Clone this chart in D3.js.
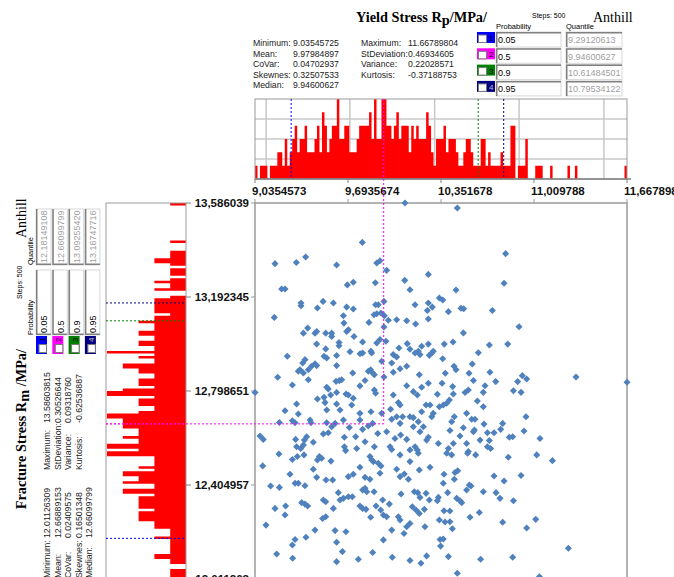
<!DOCTYPE html>
<html>
<head>
<meta charset="utf-8">
<script src="https://cdn.jsdelivr.net/npm/d3@7/dist/d3.min.js"></script>
<style>
  body { margin: 0; background: #fff; }
  svg { display: block; }
  text { font-family: "Liberation Sans", Arial, sans-serif; }
</style>
</head>
<body>
<div id="chart"></div>
<script>
// ---- data ----
const xTickVals = [9.0354573, 9.6935674, 10.351678, 11.009788, 11.667898];
const xTickLabels = ["9,0354573", "9,6935674", "10,351678", "11,009788", "11,667898"];
const yTickVals = [13.586039, 13.192345, 12.798651, 12.404957, 12.011263];
const yTickLabels = ["13,586039", "13,192345", "12,798651", "12,404957", "12,011263"];

const probabilities = ["0.05", "0.5", "0.9", "0.95"];
const probColors = ["#0000ff", "#ff00ff", "#008000", "#000080"];
const xQuantiles = [9.29120613, 9.94600627, 10.61484501, 10.79534122];
const yQuantiles = [12.18149108, 12.66099799, 13.09255420, 13.16747716];
const xQuantileText = ["9.29120613", "9.94600627", "10.61484501", "10.79534122"];
const yQuantileText = ["12.18149108", "12.66099799", "13.09255420", "13.16747716"];

const statNames1 = ["Minimum:", "Mean:", "CoVar:", "Skewnes:", "Median:"];
const statNames2 = ["Maximum:", "StDeviation:", "Variance:", "Kurtosis:"];
const xStats1 = ["9.03545725", "9.97984897", "0.04702937", "0.32507533", "9.94600627"];
const xStats2 = ["11.66789804", "0.46934605", "0.22028571", "-0.37188753"];
const yStats1 = ["12.01126309", "12.66889153", "0.02409575", "0.16501348", "12.66099799"];
const yStats2 = ["13.58603815", "0.30526644", "0.09318760", "-0.62536887"];

// histogram of the yield stress, 150 bins from min to max
const xCounts = [
  1,0,1,1,1,0,1,1,1,2, 2,1,3,1,2,3,4,2,3,3, 4,2,2,2,3,4,2,5,4,2,
  3,4,4,6,3,3,4,4,2,2, 2,3,4,4,4,4,5,3,6,3, 3,6,6,4,4,3,4,5,3,4,
  4,4,2,4,3,4,3,3,3,5, 4,2,1,3,3,3,4,2,3,3, 3,2,1,1,2,3,3,2,1,1,
  1,3,3,1,2,1,1,1,1,2, 1,1,1,4,4,0,1,1,1,3, 0,0,0,1,1,1,0,0,0,1,
  0,0,0,0,0,0,1,0,0,1, 0,0,0,0,0,0,0,0,0,0, 0,0,0,0,0,0,0,0,0,1
];
// histogram of the fracture stress, 150 bins from max down to min
const yCountsTopDown = [
  1,0,0,0,0,0,0,0,0,0, 0,0,0,0,0,1,0,0,0,1, 1,1,2,2,1,0,1,1,1,0,
  1,2,1,1,2,0,0,1,2,2, 2,2,2,2,1,2,2,3,2,2, 2,3,3,2,2,3,3,2,2,5,
  2,3,2,2,4,4,3,3,2,2, 3,3,3,2,4,5,5,2,3,3, 3,2,2,3,5,5,4,4,4,4,
  3,3,3,4,3,3,5,5,3,5, 5,2,2,2,2,3,2,4,4,3, 3,4,2,2,4,4,2,3,3,3,
  3,3,2,3,3,3,3,2,2,2, 1,1,1,2,1,1,1,1,1,1, 2,2,1,1,0,0,1,1,1,1
];

// scatter samples [yield stress, fracture stress]
const points = [
  [10.097,13.586],[9.795,13.421],[9.177,13.332],[9.328,13.337],[9.394,13.360],[9.613,13.326],[9.897,13.335],[9.920,13.344],
  [9.967,13.304],[10.095,13.262],[9.731,13.254],[9.689,13.243],[9.887,13.252],[10.132,13.223],[9.224,13.226],[9.248,13.226],
  [9.361,13.167],[9.361,13.156],[9.517,13.174],[9.477,13.146],[9.590,13.167],[9.684,13.150],[9.731,13.142],[9.889,13.160],
  [9.908,13.160],[9.948,13.174],[10.168,13.160],[9.172,13.107],[9.661,13.114],[9.878,13.118],[9.897,13.122],[9.927,13.125],
  [9.951,13.114],[9.979,13.095],[10.038,13.097],[10.109,13.093],[9.842,13.086],[9.665,13.083],[9.408,13.062],[9.378,13.041],
  [9.460,13.041],[9.472,13.048],[9.536,13.041],[9.578,13.041],[9.578,13.027],[9.696,13.055],[9.684,13.048],[9.736,13.027],
  [9.948,13.067],[10.172,13.079],[9.920,13.014],[9.797,13.004],[9.472,12.995],[9.630,13.002],[9.630,12.988],[9.897,13.000],
  [9.962,13.007],[10.113,12.997],[10.215,12.986],[10.054,12.979],[9.536,12.975],[9.264,12.944],[9.389,12.930],[9.524,12.944],
  [9.543,12.937],[9.613,12.947],[9.708,12.963],[9.779,12.955],[9.797,12.958],[9.856,12.965],[9.861,12.958],[10.014,12.951],
  [10.038,12.941],[10.132,12.974],[10.168,12.958],[10.191,12.965],[10.203,12.951],[9.932,12.923],[9.373,12.916],[9.354,12.888],
  [9.342,12.881],[9.378,12.874],[9.413,12.888],[9.436,12.902],[9.460,12.913],[9.472,12.905],[9.613,12.905],[9.727,12.874],
  [9.837,12.881],[9.854,12.888],[9.868,12.874],[9.880,12.867],[10.003,12.916],[10.014,12.877],[10.062,12.892],[10.109,12.902],
  [10.198,12.867],[9.196,12.856],[9.413,12.846],[9.609,12.839],[9.632,12.842],[9.649,12.846],[9.814,12.843],[9.948,12.857],
  [10.467,13.565],[10.809,13.374],[10.798,13.250],[10.262,13.287],[10.458,13.222],[10.340,13.188],[10.364,13.180],[10.262,13.167],
  [10.290,13.150],[10.255,13.136],[10.262,13.100],[10.404,13.131],[10.493,13.145],[10.512,13.143],[10.715,13.136],[10.904,13.068],
  [10.510,13.042],[10.262,12.995],[10.375,12.995],[10.437,13.004],[10.694,12.991],[10.824,12.995],[10.269,12.948],[10.286,12.958],
  [10.297,12.965],[10.364,12.934],[10.616,12.959],[10.573,12.912],[10.444,12.902],[10.458,12.888],[10.382,12.873],[10.550,12.873],
  [10.698,12.877],[10.581,12.843],[10.359,12.831],[10.262,12.831],[10.927,12.863],[10.958,12.849],[11.307,12.857],[11.668,12.835],
  [10.739,12.838],[10.894,12.838],
  [9.036,12.792],[9.300,12.824],[9.543,12.814],[9.554,12.807],[9.696,12.782],[9.778,12.820],[9.880,12.803],[9.889,12.789],
  [10.014,12.782],[10.050,12.750],[10.062,12.740],[10.109,12.821],[10.156,12.796],[10.215,12.814],[10.184,12.782],[9.613,12.792],
  [9.731,12.768],[9.477,12.765],[9.524,12.772],[9.571,12.782],[9.679,12.786],[9.330,12.744],[9.248,12.716],[9.342,12.702],
  [9.425,12.677],[9.531,12.750],[9.613,12.744],[9.637,12.719],[9.543,12.719],[9.720,12.740],[9.778,12.705],[9.856,12.712],
  [9.932,12.705],[9.995,12.722],[10.038,12.691],[10.080,12.691],[10.132,12.691],[10.156,12.687],[10.215,12.712],[9.208,12.667],
  [9.300,12.674],[9.319,12.666],[9.432,12.666],[9.543,12.666],[9.578,12.649],[9.602,12.663],[9.661,12.677],[9.703,12.646],
  [9.778,12.677],[9.797,12.638],[9.837,12.652],[9.868,12.663],[9.967,12.628],[10.003,12.680],[10.062,12.663],[10.156,12.649],
  [10.191,12.670],[10.227,12.649],[9.071,12.610],[9.094,12.596],[9.323,12.596],[9.401,12.607],[9.385,12.593],[9.448,12.584],
  [9.519,12.619],[9.554,12.624],[9.668,12.605],[9.748,12.607],[9.814,12.586],[9.904,12.621],[10.026,12.600],[10.066,12.614],
  [10.109,12.596],[10.203,12.628],[10.132,12.552],[10.168,12.565],[10.184,12.552],[9.205,12.535],[9.300,12.512],[9.330,12.565],
  [9.359,12.558],[9.378,12.572],[9.335,12.524],[9.382,12.531],[9.477,12.510],[9.491,12.524],[9.507,12.517],[9.573,12.505],
  [9.668,12.565],[9.677,12.549],[9.755,12.558],[9.880,12.565],[9.849,12.524],[9.861,12.510],[9.873,12.503],[9.908,12.496],
  [9.927,12.485],[9.991,12.565],[10.003,12.554],[10.062,12.531],[10.132,12.503],[10.191,12.538],[9.090,12.485],[9.283,12.450],
  [9.319,12.412],[9.342,12.412],[9.448,12.471],[9.472,12.437],[9.538,12.426],[9.585,12.426],[9.696,12.440],[9.731,12.450],
  [9.778,12.479],[9.814,12.437],[9.849,12.429],[9.920,12.454],[10.038,12.471],[10.062,12.440],[10.092,12.451],[10.121,12.429],
  [10.198,12.468],[9.146,12.401],[9.208,12.395],[9.389,12.402],[9.625,12.373],[9.696,12.356],[9.724,12.356],[9.637,12.342],
  [9.661,12.349],[9.814,12.391],[9.826,12.377],[9.797,12.384],[9.878,12.377],[9.939,12.342],[9.986,12.325],[10.069,12.367],
  [10.163,12.377],[10.187,12.373],[10.203,12.353],[9.177,12.307],[9.252,12.317],[9.248,12.279],[9.366,12.331],[9.389,12.325],
  [9.408,12.317],[9.519,12.342],[9.536,12.335],[9.590,12.307],[9.778,12.317],[9.797,12.307],[9.821,12.303],[9.854,12.270],
  [9.892,12.317],[9.925,12.300],[9.944,12.279],[9.967,12.272],[10.050,12.272],[10.062,12.258],[10.149,12.314],[10.175,12.300],
  [9.113,12.237],[9.460,12.216],[9.514,12.265],[9.536,12.272],[9.602,12.214],[9.679,12.209],[9.944,12.175],[10.003,12.216],
  [10.090,12.202],[10.109,12.230],[10.132,12.244],[10.198,12.286],[10.238,12.230],[9.319,12.177],[9.300,12.154],[9.396,12.186],
  [9.189,12.116],[9.302,12.098],[9.613,12.165],[9.654,12.126],[9.613,12.084],[9.767,12.094],[9.868,12.122],[10.007,12.102],
  [10.132,12.089],[10.210,12.077],
  [10.434,12.817],[10.663,12.821],[10.864,12.800],[10.918,12.793],[10.522,12.792],[10.545,12.803],[10.651,12.793],[10.326,12.785],
  [10.439,12.786],[10.609,12.757],[10.651,12.733],[10.246,12.740],[10.274,12.740],[10.340,12.733],[10.368,12.740],[10.392,12.747],
  [10.411,12.761],[10.297,12.705],[10.286,12.691],[10.446,12.691],[10.533,12.705],[10.569,12.680],[10.592,12.680],[10.953,12.691],
  [10.656,12.660],[10.788,12.663],[10.427,12.670],[10.415,12.633],[10.510,12.645],[10.581,12.628],[10.588,12.635],[10.680,12.624],
  [10.727,12.624],[10.774,12.638],[10.939,12.631],[10.486,12.610],[10.835,12.605],[10.859,12.607],[11.052,12.600],[10.250,12.593],
  [10.262,12.605],[10.333,12.579],[10.439,12.579],[10.533,12.579],[10.628,12.593],[10.694,12.591],[10.680,12.565],[10.703,12.558],
  [10.404,12.558],[10.392,12.538],[10.427,12.531],[10.545,12.545],[10.540,12.538],[10.597,12.531],[10.828,12.521],[11.029,12.531],
  [11.140,12.507],[10.274,12.479],[10.451,12.457],[10.470,12.465],[10.373,12.450],[10.727,12.443],[10.798,12.422],[10.918,12.445],
  [10.446,12.429],[10.368,12.412],[10.552,12.405],[10.533,12.384],[10.564,12.401],[10.651,12.377],[10.741,12.373],[10.769,12.349],
  [10.864,12.339],[10.246,12.370],[10.269,12.342],[10.333,12.353],[10.326,12.339],[10.399,12.373],[10.463,12.349],[10.486,12.339],
  [10.498,12.331],[10.234,12.303],[10.373,12.297],[10.415,12.296],[10.623,12.290],[10.557,12.270],[10.340,12.258],[10.380,12.250],
  [10.415,12.251],[10.432,12.222],[10.788,12.249],[10.958,12.225],[11.022,12.261],[10.345,12.177],[10.368,12.179],[10.349,12.149],
  [10.250,12.108],[10.404,12.105],[10.632,12.094],[10.859,12.102],[11.253,12.140],[10.467,12.035],[11.048,12.021]
];

// ---- layout ----
const W = 674, H = 577;
const xMin = xTickVals[0], xMax = xTickVals[xTickVals.length - 1];
const yMax = yTickVals[0], yMin = yTickVals[yTickVals.length - 1];
const mid = 1; // index of the 0.5 probability

const svg = d3.select("#chart").append("svg")
    .attr("width", W)
    .attr("height", H);

const x = d3.scaleLinear().domain([xMin, xMax]).range([255, 627]);
const y = d3.scaleLinear().domain([yMin, yMax]).range([579, 203]);
const hTop = d3.scaleLinear().domain([0, 6]).range([179, 99]);
const hLeft = d3.scaleLinear().domain([0, 5]).range([186, 107]);

const gridColor = "#c8c8c8";
const axisColor = "#9a9a9a";

// ---- top histogram ----
const topG = svg.append("g");
topG.selectAll(".hgrid").data([1.5, 3, 4.5]).join("line")
    .attr("x1", x.range()[0]).attr("x2", x.range()[1])
    .attr("y1", d => hTop(d)).attr("y2", d => hTop(d))
    .attr("stroke", gridColor).attr("stroke-width", 1.5);
topG.selectAll(".vgrid").data([0.03, 0.255, 0.483, 0.71, 0.938]).join("line")
    .attr("x1", d => x(xMin + d * (xMax - xMin))).attr("x2", d => x(xMin + d * (xMax - xMin)))
    .attr("y1", hTop(6)).attr("y2", hTop(0))
    .attr("stroke", gridColor).attr("stroke-width", 1.5);

const xBinW = (xMax - xMin) / xCounts.length;
const xBins = xCounts.map((c, i) => ({ v: xMin + i * xBinW, c }));
xBins.push({ v: xMax, c: xCounts[xCounts.length - 1] });
topG.append("path")
    .datum(xBins)
    .attr("d", d3.area()
        .x(d => x(d.v))
        .y0(hTop(0))
        .y1(d => hTop(d.c))
        .curve(d3.curveStepAfter))
    .attr("fill", "#ff0000");

topG.append("rect")
    .attr("x", x.range()[0]).attr("y", hTop(6))
    .attr("width", x.range()[1] - x.range()[0]).attr("height", hTop(0) - hTop(6))
    .attr("fill", "none").attr("stroke", axisColor);
topG.append("line")
    .attr("x1", x.range()[0]).attr("x2", x.range()[1] + 4)
    .attr("y1", hTop(0)).attr("y2", hTop(0))
    .attr("stroke", "#808080").attr("stroke-width", 1.5);
topG.selectAll(".tick").data(xTickVals).join("line")
    .attr("x1", d => x(d)).attr("x2", d => x(d))
    .attr("y1", hTop(0)).attr("y2", hTop(0) + 4)
    .attr("stroke", "#808080");
topG.selectAll(".lab").data(xTickLabels).join("text")
    .attr("x", (d, i) => x(xTickVals[i]) - 3)
    .attr("y", 195)
    .style("font-size", "11.5px").style("font-weight", "bold").attr("fill", "#111")
    .text(d => d);

// quantile markers on the top histogram
topG.selectAll(".q").data(xQuantiles).join("line")
    .attr("x1", d => x(d)).attr("x2", d => x(d))
    .attr("y1", hTop(6)).attr("y2", hTop(0))
    .attr("stroke", (d, i) => probColors[i])
    .attr("stroke-dasharray", "2,2");

// ---- left histogram ----
const leftG = svg.append("g");
const yBinH = (yMax - yMin) / yCountsTopDown.length;
const yBins = yCountsTopDown.map((c, j) => ({ v: yMax - j * yBinH, c }));
yBins.push({ v: yMin, c: yCountsTopDown[yCountsTopDown.length - 1] });
leftG.append("path")
    .datum(yBins)
    .attr("d", d3.area()
        .y(d => y(d.v))
        .x0(hLeft(0))
        .x1(d => hLeft(d.c))
        .curve(d3.curveStepBefore))
    .attr("fill", "#ff0000");
leftG.append("path")
    .attr("d", `M${hLeft(0)},${H} V${y(yMax)} H${hLeft(5) - 1} V${H}`)
    .attr("fill", "none").attr("stroke", axisColor);
leftG.selectAll(".tick").data(yTickVals).join("line")
    .attr("x1", hLeft(0)).attr("x2", hLeft(0) + 5)
    .attr("y1", d => y(d)).attr("y2", d => y(d))
    .attr("stroke", "#808080");
leftG.selectAll(".q").data(yQuantiles).join("line")
    .attr("x1", hLeft(5) - 1).attr("x2", hLeft(0))
    .attr("y1", d => y(d)).attr("y2", d => y(d))
    .attr("stroke", (d, i) => probColors[i])
    .attr("stroke-dasharray", "2,2");

// ---- scatter ----
const sc = svg.append("g");
sc.append("path")
    .attr("d", `M${x.range()[0]},${H} V${y(yMax)} H${x.range()[1]} V${H}`)
    .attr("fill", "none").attr("stroke", axisColor).attr("stroke-width", 1.5);
sc.selectAll(".xt").data(xTickVals).join("line")
    .attr("x1", d => x(d)).attr("x2", d => x(d))
    .attr("y1", y(yMax) - 4).attr("y2", y(yMax))
    .attr("stroke", axisColor);
sc.selectAll(".yt").data(yTickVals).join("line")
    .attr("x1", x.range()[0] - 4).attr("x2", x.range()[0])
    .attr("y1", d => y(d)).attr("y2", d => y(d))
    .attr("stroke", axisColor);
sc.selectAll(".ylab").data(yTickLabels).join("text")
    .attr("x", 249)
    .attr("y", (d, i) => y(yTickVals[i]) + 4)
    .attr("text-anchor", "end")
    .style("font-size", "11.5px").style("font-weight", "bold").attr("fill", "#111")
    .text(d => d);

const marker = d3.symbol().type(d3.symbolSquare).size(25);
sc.selectAll("path.pt").data(points).join("path")
    .attr("class", "pt")
    .attr("d", marker)
    .attr("transform", d => `translate(${x(d[0])},${y(d[1])}) rotate(45)`)
    .attr("fill", "#4f81bd");

// median crosshair
svg.append("line")
    .attr("x1", x(xQuantiles[mid])).attr("x2", x(xQuantiles[mid]))
    .attr("y1", hTop(6)).attr("y2", y(yQuantiles[mid]))
    .attr("stroke", probColors[mid]).attr("stroke-dasharray", "2,2");
svg.append("line")
    .attr("x1", hLeft(5) - 1).attr("x2", x(xQuantiles[mid]))
    .attr("y1", y(yQuantiles[mid])).attr("y2", y(yQuantiles[mid]))
    .attr("stroke", probColors[mid]).attr("stroke-dasharray", "2,2");

// ---- header panels (the left one is the same panel turned) ----
function drawHeader(g, cfg) {
    const serif = "'Liberation Serif','Times New Roman',serif";
    const t = g.append("text")
        .attr("x", cfg.titleEnd).attr("y", 22)
        .attr("text-anchor", "end")
        .style("font-family", serif).style("font-weight", "bold").style("font-size", "14.3px");
    t.append("tspan").text(cfg.title + " R");
    t.append("tspan").attr("dy", 3).text(cfg.sub);
    t.append("tspan").attr("dy", -3).text(cfg.unit);

    g.append("text").attr("x", 593).attr("y", 22)
        .style("font-family", serif).style("font-size", "14px").text("Anthill");
    g.append("text").attr("x", 532).attr("y", 18)
        .style("font-size", "7px").text("Steps: 500");
    g.append("text").attr("x", 496).attr("y", 29)
        .style("font-size", "7.5px").text("Probability");
    g.append("text").attr("x", 566).attr("y", 29)
        .style("font-size", "7.5px").text("Quantile");

    const statRow = i => 46 + i * 10.5;
    g.selectAll(".s1n").data(statNames1).join("text")
        .attr("x", 253).attr("y", (d, i) => statRow(i))
        .style("font-size", "8.7px").attr("fill", "#222").text(d => d);
    g.selectAll(".s1v").data(cfg.stats1).join("text")
        .attr("x", 293).attr("y", (d, i) => statRow(i))
        .style("font-size", "8.7px").attr("fill", "#222").text(d => d);
    g.selectAll(".s2n").data(statNames2).join("text")
        .attr("x", 361).attr("y", (d, i) => statRow(i))
        .style("font-size", "8.7px").attr("fill", "#222").text(d => d);
    g.selectAll(".s2v").data(cfg.stats2).join("text")
        .attr("x", 408).attr("y", (d, i) => statRow(i))
        .style("font-size", "8.7px").attr("fill", "#222").text(d => d);

    probabilities.forEach((p, i) => {
        const rowTop = 32 + i * 16.3;
        // colored badge with checkbox
        g.append("rect").attr("x", 477).attr("y", rowTop).attr("width", 18).attr("height", 11)
            .attr("fill", probColors[i]);
        g.append("rect").attr("x", 478.5).attr("y", rowTop + 3).attr("width", 8).attr("height", 7.5)
            .attr("fill", "#fff").attr("stroke", "#7a7a7a");
        g.append("text").attr("x", 489).attr("y", rowTop + 9)
            .style("font-size", "8px").attr("fill", i === 3 ? "#c0c0c0" : "#000").text(i + 1);
        field(g, 496, rowTop, 65, p, "#000");
        field(g, 566, rowTop, 56, cfg.quant[i], "#a0a0a0");
    });
}

function field(g, fx, fy, fw, txt, col) {
    g.append("rect").attr("x", fx).attr("y", fy).attr("width", fw).attr("height", 15)
        .attr("fill", "#fff").attr("stroke", "#d8d8d8");
    g.append("path").attr("d", `M${fx + 0.75},${fy + 15} V${fy + 0.75} H${fx + fw}`)
        .attr("fill", "none").attr("stroke", "#808080").attr("stroke-width", 1.5);
    g.append("text").attr("x", fx + 2).attr("y", fy + 11.3)
        .style("font-size", "9px").attr("fill", col).text(txt);
}

drawHeader(svg.append("g"), {
    title: "Yield Stress", sub: "p", unit: "/MPa/", titleEnd: 487,
    stats1: xStats1, stats2: xStats2, quant: xQuantileText
});
drawHeader(svg.append("g").attr("transform", "translate(4,831) rotate(-90)"), {
    title: "Fracture Stress", sub: "m", unit: " /MPa/", titleEnd: 482,
    stats1: yStats1, stats2: yStats2, quant: yQuantileText
});
</script>
</body>
</html>
